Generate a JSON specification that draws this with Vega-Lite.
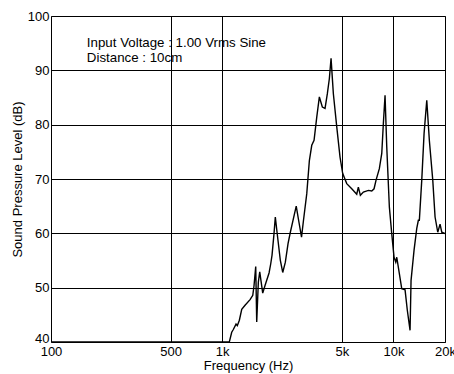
{
  "$schema": "https://vega.github.io/schema/vega-lite/v6.json",
  "width": 394,
  "height": 326,
  "autosize": {"type": "none"},
  "padding": {"left": 51, "top": 16, "right": 9, "bottom": 32},
  "background": "white",
  "config": {
    "font": "Liberation Sans",
    "view": {"stroke": "#555", "strokeWidth": 1},
    "axis": {"labelFont": "Liberation Sans", "titleFont": "Liberation Sans", "labelColor": "#000", "titleColor": "#000", "titleFontWeight": "normal", "labelFontSize": 13, "titleFontSize": 13, "tickSize": 0, "domain": false, "gridColor": "#000", "gridOpacity": 1, "gridWidth": 1}
  },
  "datasets": {
    "spl": [
      {"f": 100, "db": 40}, {"f": 1100, "db": 40}, {"f": 1136, "db": 41.8}, {"f": 1161, "db": 42.3},
      {"f": 1204, "db": 43.3}, {"f": 1225, "db": 43.0}, {"f": 1259, "db": 44.0}, {"f": 1300, "db": 46.0},
      {"f": 1359, "db": 46.75}, {"f": 1454, "db": 47.8}, {"f": 1508, "db": 48.6}, {"f": 1534, "db": 50.4},
      {"f": 1569, "db": 53.9}, {"f": 1590, "db": 43.7}, {"f": 1625, "db": 51.0}, {"f": 1656, "db": 52.9},
      {"f": 1724, "db": 49.0}, {"f": 1778, "db": 50.4}, {"f": 1877, "db": 52.7}, {"f": 1920, "db": 54.4},
      {"f": 1954, "db": 56.0}, {"f": 2007, "db": 60.0}, {"f": 2042, "db": 63.0}, {"f": 2090, "db": 60.2},
      {"f": 2185, "db": 55.0}, {"f": 2256, "db": 52.8}, {"f": 2337, "db": 54.7}, {"f": 2423, "db": 58.1},
      {"f": 2499, "db": 60.2}, {"f": 2616, "db": 63.0}, {"f": 2705, "db": 65.0}, {"f": 2790, "db": 62.5},
      {"f": 2905, "db": 59.3}, {"f": 2985, "db": 62.5}, {"f": 3117, "db": 67.3}, {"f": 3228, "db": 73.4},
      {"f": 3333, "db": 76.2}, {"f": 3438, "db": 77.1}, {"f": 3565, "db": 81.4}, {"f": 3692, "db": 85.1},
      {"f": 3843, "db": 83.25}, {"f": 3985, "db": 83.0}, {"f": 4111, "db": 85.7}, {"f": 4224, "db": 88.5},
      {"f": 4321, "db": 92.2}, {"f": 4457, "db": 85.7}, {"f": 4665, "db": 79.6}, {"f": 4876, "db": 74.0},
      {"f": 5055, "db": 71.0}, {"f": 5336, "db": 69.15}, {"f": 5706, "db": 68.2}, {"f": 6104, "db": 67.2},
      {"f": 6237, "db": 68.5}, {"f": 6408, "db": 67.0}, {"f": 6673, "db": 67.6}, {"f": 7137, "db": 67.9},
      {"f": 7470, "db": 67.8}, {"f": 7704, "db": 68.2}, {"f": 7914, "db": 69.8}, {"f": 8272, "db": 71.9},
      {"f": 8545, "db": 74.7}, {"f": 8730, "db": 80.2}, {"f": 8931, "db": 85.4}, {"f": 9139, "db": 75.9},
      {"f": 9463, "db": 64.85}, {"f": 9773, "db": 59.95}, {"f": 10080, "db": 55.6}, {"f": 10314, "db": 54.7},
      {"f": 10454, "db": 55.6}, {"f": 10825, "db": 52.6}, {"f": 11181, "db": 49.8}, {"f": 11689, "db": 49.6},
      {"f": 12055, "db": 45.8}, {"f": 12502, "db": 42.15}, {"f": 12670, "db": 51.35}, {"f": 13192, "db": 56.9},
      {"f": 13681, "db": 60.9}, {"f": 13977, "db": 62.4}, {"f": 14166, "db": 62.4}, {"f": 14633, "db": 69.8},
      {"f": 15093, "db": 78.35}, {"f": 15651, "db": 84.5}, {"f": 16207, "db": 77.1}, {"f": 16966, "db": 69.8},
      {"f": 17500, "db": 63.0}, {"f": 18144, "db": 60.2}, {"f": 18715, "db": 61.7}, {"f": 19148, "db": 60.2},
      {"f": 20000, "db": 59.95}
    ],
    "notes": [
      {"f": 162, "db": 94.3, "label": "Input Voltage : 1.00 Vrms Sine"},
      {"f": 162, "db": 91.5, "label": "Distance : 10cm"}
    ]
  },
  "layer": [
    {
      "data": {"name": "spl"},
      "mark": {"type": "line", "color": "#000", "strokeWidth": 1.4, "clip": true},
      "encoding": {
        "x": {"field": "f", "type": "quantitative", "scale": {"type": "log", "domain": [100, 20000], "nice": false},
          "axis": {"title": "Frequency (Hz)", "values": [100, 500, 1000, 5000, 10000, 20000], "labelExpr": "datum.value >= 1000 ? (datum.value / 1000) + 'k' : datum.value", "labelPadding": 3, "titlePadding": 1, "labelOverlap": false, "labelBound": false, "labelFlush": false}},
        "y": {"field": "db", "type": "quantitative", "scale": {"domain": [40, 100], "nice": false, "zero": false},
          "axis": {"title": "Sound Pressure Level (dB)", "values": [40, 50, 60, 70, 80, 90, 100], "labelPadding": 2, "titlePadding": 3, "labelFlush": false, "labelOverlap": false,
            "labelOffset": {"condition": {"test": "datum.value == 40", "value": -4}, "value": 0}}}
      }
    },
    {
      "data": {"name": "notes"},
      "mark": {"type": "text", "align": "left", "baseline": "alphabetic", "fontSize": 13.3, "color": "#000", "font": "Liberation Sans"},
      "encoding": {
        "x": {"field": "f", "type": "quantitative"},
        "y": {"field": "db", "type": "quantitative"},
        "text": {"field": "label"}
      }
    }
  ]
}
